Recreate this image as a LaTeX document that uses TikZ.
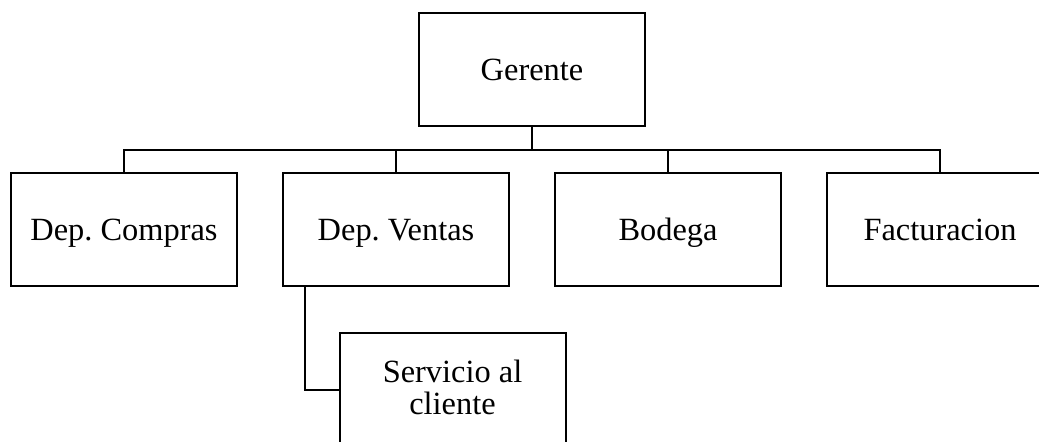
\documentclass[tikz,border=0pt]{standalone}
\usepackage{fontspec}
\setmainfont{Liberation Serif}
\frenchspacing
\usepackage{tikz}
\usetikzlibrary{calc}

\tikzset{
  caja/.style={draw, line width=1.5pt, minimum width=169.5pt, minimum height=84.75pt,
               inner sep=0pt, align=center, font=\fontsize{24.3}{24}\selectfont,
               text height=20.8pt, text depth=5pt},
  rama/.style={line width=1.5pt}
}

\begin{document}
\begin{tikzpicture}[x=0.75pt, y=-0.75pt]
        \useasboundingbox (0,0) rectangle (1039,442);
        \clip (0,0) rectangle (1039,442);
        % jefe
        \node[caja] (gerente)     at (532, 69.5)  {Gerente};
        % departamentos
        \node[caja] (compras)     at (124, 229.5) {Dep. Compras};
        \node[caja] (ventas)      at (396, 229.5) {Dep. Ventas};
        \node[caja] (bodega)      at (668, 229.5) {Bodega};
        \node[caja] (facturacion) at (940, 229.5) {Facturacion};
        \node[caja, text height=43.2pt, text depth=5pt] (servicio) at (452.5, 389.5) {Servicio al\\cliente};
        % lineas
        \draw[rama] (gerente.south) -- ++(0,23.5) -| (compras.north);
        \draw[rama] (gerente.south) -- ++(0,23.5) -| (ventas.north);
        \draw[rama] (gerente.south) -- ++(0,23.5) -| (bodega.north);
        \draw[rama] (gerente.south) -- ++(0,23.5) -| (facturacion.north);
        \draw[rama] (ventas.south west) ++(23,0) |- (servicio.west);
\end{tikzpicture}
\end{document}
